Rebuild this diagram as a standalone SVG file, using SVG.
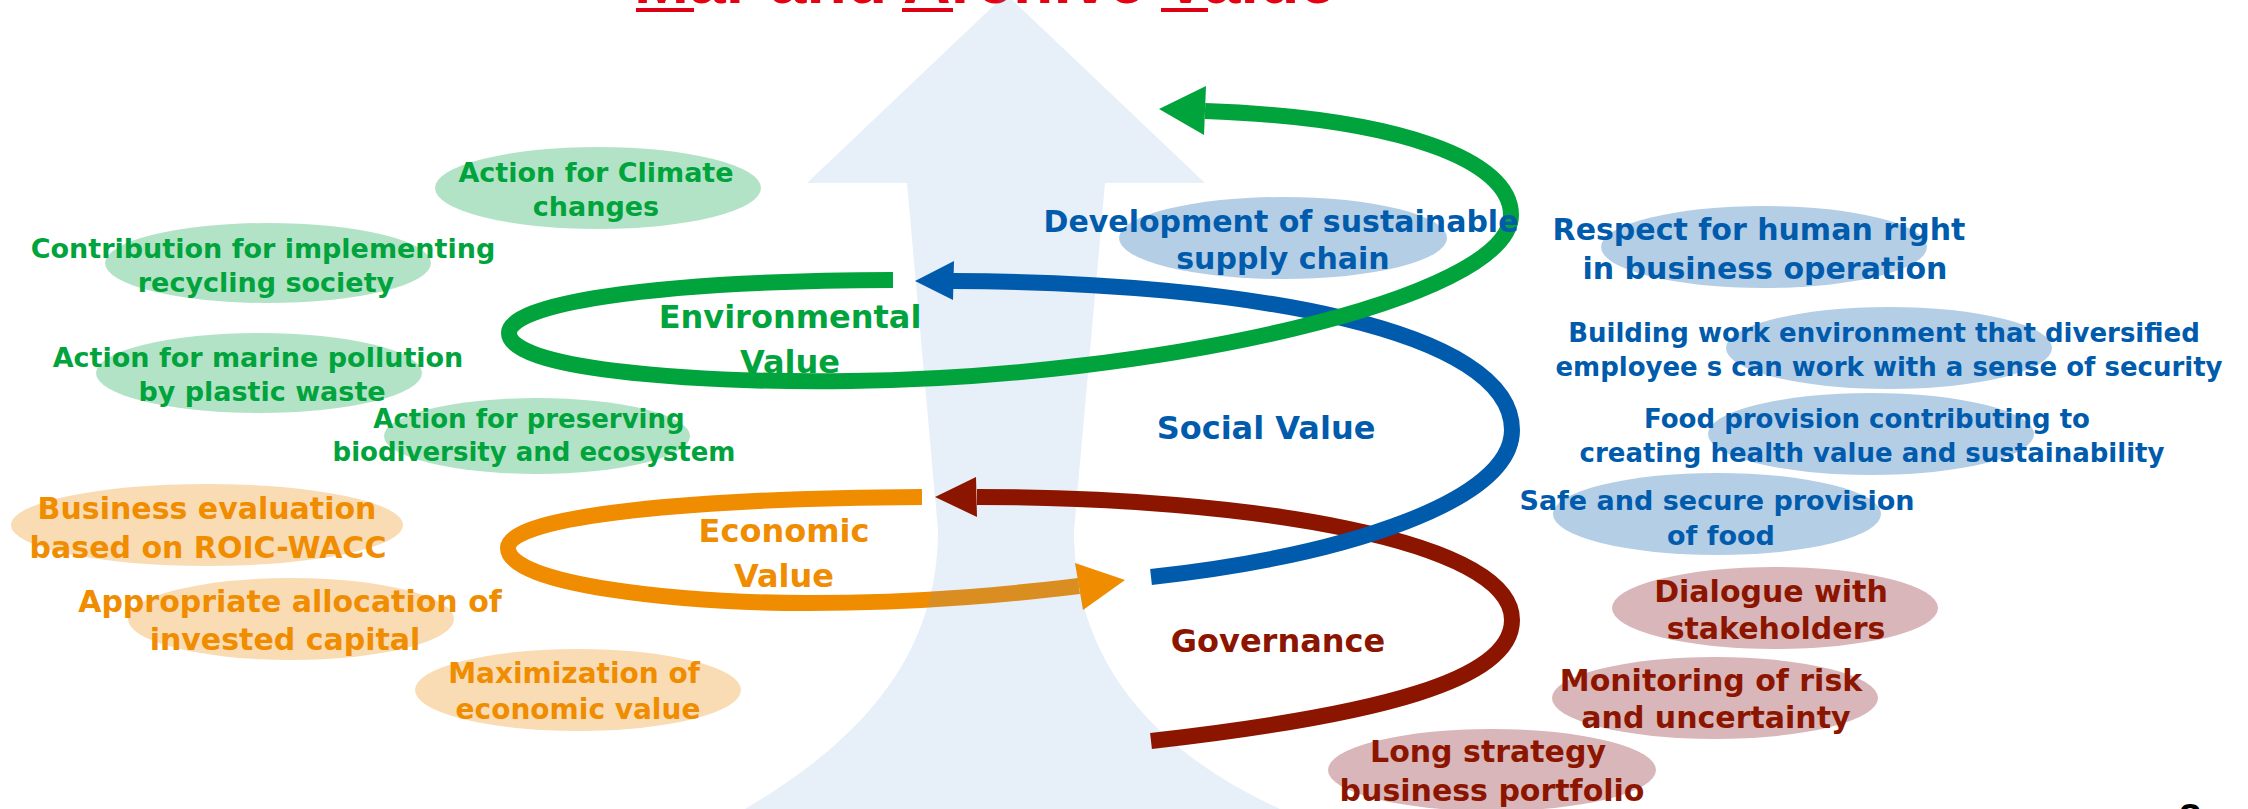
<svg xmlns="http://www.w3.org/2000/svg" width="2248" height="809" viewBox="0 0 2248 809">
  <style>
    text { font-family: "DejaVu Sans", Verdana, sans-serif; font-weight: bold; text-anchor: middle; }
    .loop { fill: none; stroke-width: 16; stroke-linecap: butt; }
    .g { fill: #00A33C; } .gs { stroke: #00A33C; }
    .b { fill: #005BAC; } .bs { stroke: #005BAC; }
    .r { fill: #8C1500; } .rs { stroke: #8C1500; }
    .o { fill: #F08C00; } .os { stroke: #F08C00; }
    .gb { fill: #B3E3C6; } .ob { fill: #F9DCB4; } .bb { fill: #B4CEE6; } .rb { fill: #D9B6B9; }
    .f26 { font-size: 26px; } .f27 { font-size: 27px; } .f28 { font-size: 28px; } .f30 { font-size: 30px; } .f32 { font-size: 32px; }
  </style>

  <rect width="2248" height="809" fill="#FFFFFF"/>

  <!-- Title (cut off at top edge) -->
  <g id="title">
    <text x="985" y="3" style="font-family:'Liberation Sans',Arial,sans-serif;font-size:66px;fill:#E60012">Mar and Archive Value</text>
    <rect x="636" y="8" width="58" height="4" fill="#DC0014"/>
    <rect x="902" y="8" width="51" height="4" fill="#DC0014"/>
    <rect x="1161" y="8" width="47" height="4" fill="#DC0014"/>
  </g>

  <!-- Orange loop (behind the big arrow) -->
  <g id="connectors-economic">
    <path class="loop os" d="M 922,497 C 700,498 508,515 508,548 C 508,585 680,603 808,603 C 930,603 1020,593 1079,586"/>
    <polygon class="o" points="1125,580 1075,563 1083,610"/>
  </g>

  <!-- Big upward arrow -->
  <g id="growth-arrow">
    <path d="M 807,183 L 1006,-6 L 1205,183 L 1105,183 L 1074,530 C 1074,640 1130,740 1280,809 L 745,809 C 880,730 938,640 938,530 L 907,183 Z" fill="rgb(98,150,209)" fill-opacity="0.153"/>
  </g>

  <!-- Loops -->
  <g id="connectors">
    <path class="loop rs" d="M 1151,741 C 1380,715 1512,680 1512,620 C 1512,540 1250,497 977,497"/>
    <polygon class="r" points="935,497 976,477 977,517"/>
    <path class="loop bs" d="M 1151,577 C 1350,555 1512,500 1512,430 C 1512,330 1250,282 953,281"/>
    <polygon class="b" points="915,281 954,261 953,300"/>
    <path class="loop gs" d="M 893,280 C 640,281 509,305 509,333 C 509,368 680,383 850,381 C 1150,378 1511,300 1511,215 C 1511,160 1400,118 1205,111"/>
    <polygon class="g" points="1159,109 1206,86 1204,135"/>
  </g>

  <!-- Loop labels -->
  <g id="environmental-value" class="g">
    <text class="f32" x="790" y="328">Environmental</text>
    <text class="f32" x="790" y="373">Value</text>
  </g>
  <g id="social-value" class="b">
    <text class="f32" x="1266" y="439">Social Value</text>
  </g>
  <g id="economic-value" class="o">
    <text class="f32" x="784" y="542">Economic</text>
    <text class="f32" x="784" y="587">Value</text>
  </g>
  <g id="governance" class="r">
    <text class="f32" x="1278" y="652">Governance</text>
  </g>

  <!-- Environmental bubbles -->
  <g id="env-climate">
    <ellipse class="gb" cx="598" cy="188" rx="163" ry="41"/>
    <text class="g f27" x="596" y="182">Action for Climate</text>
    <text class="g f27" x="596" y="216">changes</text>
  </g>
  <g id="env-recycling">
    <ellipse class="gb" cx="268" cy="263" rx="163" ry="40"/>
    <text class="g f27" x="263" y="258">Contribution for implementing</text>
    <text class="g f27" x="266" y="292">recycling society</text>
  </g>
  <g id="env-marine">
    <ellipse class="gb" cx="259" cy="373" rx="163" ry="40"/>
    <text class="g f27" x="258" y="367">Action for marine pollution</text>
    <text class="g f27" x="262" y="401">by plastic waste</text>
  </g>
  <g id="env-biodiversity">
    <ellipse class="gb" cx="537" cy="436" rx="153" ry="38"/>
    <text class="g f26" x="529" y="428">Action for preserving</text>
    <text class="g f26" x="534" y="461">biodiversity and ecosystem</text>
  </g>

  <!-- Economic bubbles -->
  <g id="eco-roic">
    <ellipse class="ob" cx="207" cy="525" rx="196" ry="41"/>
    <text class="o f30" x="207" y="519">Business evaluation</text>
    <text class="o f30" x="208" y="558">based on ROIC-WACC</text>
  </g>
  <g id="eco-allocation">
    <ellipse class="ob" cx="291" cy="619" rx="163" ry="41"/>
    <text class="o f30" x="290" y="612">Appropriate allocation of</text>
    <text class="o f30" x="285" y="650">invested capital</text>
  </g>
  <g id="eco-maximization">
    <ellipse class="ob" cx="578" cy="690" rx="163" ry="41"/>
    <text class="o f28" x="574" y="683">Maximization of</text>
    <text class="o f28" x="578" y="719">economic value</text>
  </g>

  <!-- Social bubbles -->
  <g id="soc-supply-chain">
    <ellipse class="bb" cx="1283" cy="238" rx="164" ry="41"/>
    <text class="b f30" x="1281" y="232">Development of sustainable</text>
    <text class="b f30" x="1283" y="269">supply chain</text>
  </g>
  <g id="soc-human-right">
    <ellipse class="bb" cx="1764" cy="247" rx="163" ry="41"/>
    <text class="b f30" x="1759" y="240">Respect for human right</text>
    <text class="b f30" x="1765" y="279">in business operation</text>
  </g>
  <g id="soc-work-environment">
    <ellipse class="bb" cx="1889" cy="348" rx="163" ry="41"/>
    <text class="b f26" x="1884" y="342">Building work environment that diversified</text>
    <text class="b f26" x="1889" y="376">employee s can work with a sense of security</text>
  </g>
  <g id="soc-food-health">
    <ellipse class="bb" cx="1871" cy="434" rx="163" ry="41"/>
    <text class="b f26" x="1867" y="428">Food provision contributing to</text>
    <text class="b f26" x="1872" y="462">creating health value and sustainability</text>
  </g>
  <g id="soc-safe-food">
    <ellipse class="bb" cx="1717" cy="514" rx="164" ry="41"/>
    <text class="b f27" x="1717" y="510">Safe and secure provision</text>
    <text class="b f27" x="1721" y="545">of food</text>
  </g>

  <!-- Governance bubbles -->
  <g id="gov-dialogue">
    <ellipse class="rb" cx="1775" cy="608" rx="163" ry="41"/>
    <text class="r f30" x="1771" y="602">Dialogue with</text>
    <text class="r f30" x="1776" y="639">stakeholders</text>
  </g>
  <g id="gov-risk">
    <ellipse class="rb" cx="1715" cy="698" rx="163" ry="41"/>
    <text class="r f30" x="1711" y="691">Monitoring of risk</text>
    <text class="r f30" x="1716" y="728">and uncertainty</text>
  </g>
  <g id="gov-portfolio">
    <ellipse class="rb" cx="1492" cy="770" rx="164" ry="41"/>
    <text class="r f30" x="1488" y="762">Long strategy</text>
    <text class="r f30" x="1492" y="801">business portfolio</text>
  </g>

  <!-- Page number (cut off at bottom edge) -->
  <g id="page-number">
    <text x="2190" y="832" style="font-family:'Liberation Sans',Arial,sans-serif;font-size:40px;fill:#000000">8</text>
  </g>
</svg>
